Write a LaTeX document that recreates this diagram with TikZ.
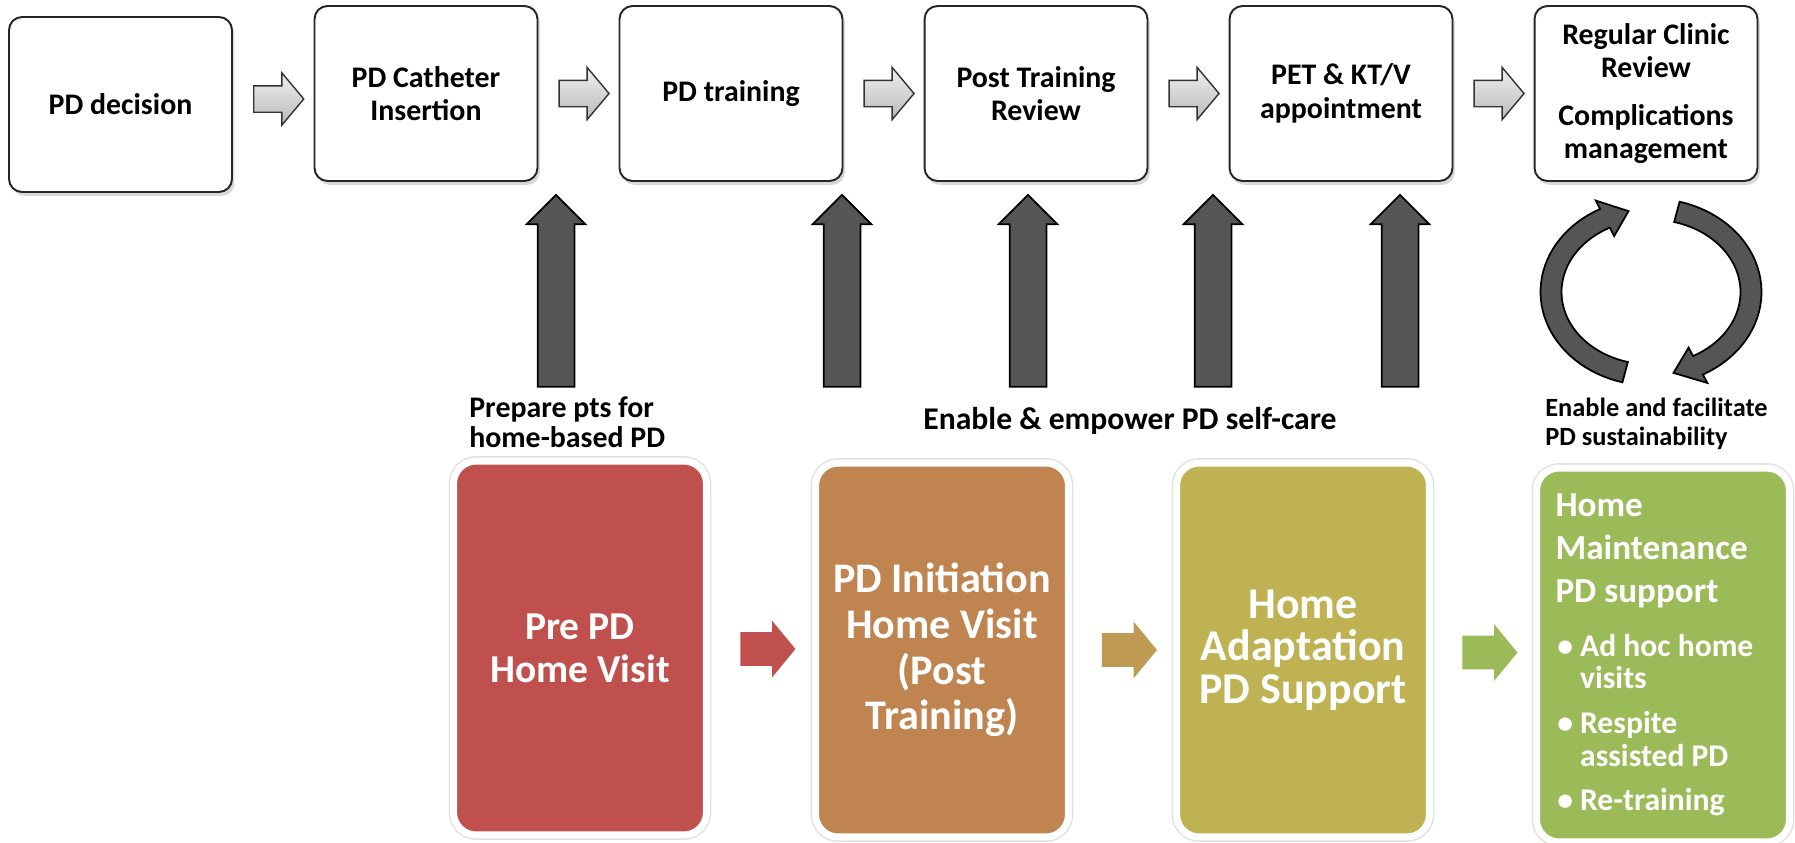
\documentclass[tikz,border=0pt]{standalone}
\usepackage{fontspec}
\setmainfont{Carlito}
\usetikzlibrary{shapes.arrows,shadows,calc}

\definecolor{prered}{HTML}{C0504D}
\definecolor{initbrown}{HTML}{BF8450}
\definecolor{adaptolive}{HTML}{BEB253}
\definecolor{maintgreen}{HTML}{9BBB59}
\definecolor{goldarrow}{HTML}{BE9A52}
\definecolor{liftgray}{HTML}{555555}

\begin{document}
\begin{tikzpicture}[x=0.02cm, y=-0.02cm,
    stepbox/.style={draw=black!85, line width=1.1pt, fill=white, rounded corners=2.6mm,
        minimum width=4.46cm, minimum height=3.5cm, inner sep=0pt, align=center,
        font=\fontsize{17}{19}\selectfont\bfseries,
        drop shadow={shadow xshift=0.5mm, shadow yshift=-0.8mm, opacity=0.3}},
    flowarrow/.style={single arrow, draw=black!80, line width=0.8pt, top color=gray!12, bottom color=gray!55,
        minimum height=1.0cm, single arrow head extend=0.26cm,
        single arrow tip angle=100, inner xsep=0pt, inner ysep=0.25cm},
    liftarrow/.style={single arrow, shape border rotate=90, draw=black, line width=1pt, fill=liftgray,
        minimum height=3.84cm, single arrow head extend=0.22cm, inner xsep=0.35cm, inner ysep=0pt},
    homebox/.style={fill=#1, preaction={draw=black!12, line width=5.6pt}, draw=white, line width=4pt,
        rounded corners=4.5mm, minimum width=5.06cm, minimum height=7.48cm, inner sep=0pt,
        text=white, align=center, font=\fontsize{22.5}{24.5}\selectfont\bfseries},
    homearrow/.style={single arrow, fill=#1, minimum height=1.1cm,
        single arrow head extend=0.23cm, single arrow tip angle=101, inner xsep=0pt, inner ysep=0.33cm},
    note/.style={inner sep=0pt, align=left, font=\fontsize{17}{17}\selectfont\bfseries},
    cyc/.style={draw=black, line width=1pt, fill=liftgray}]

    \useasboundingbox (0,0) rectangle (1795,842);

    % clinic pathway
    \node[stepbox] (pd)     at (120.5,104.5) {PD decision};
    \node[stepbox] (cath)   at (426,93.5)    {PD Catheter\\Insertion};
    \node[stepbox] (train)  at (731,93.5)    {PD training};
    \node[stepbox] (review) at (1036,93.5)   {Post Training\\Review};
    \node[stepbox] (petktv) at (1341,93.5)   {PET \& KT/V\\appointment};
    \node[stepbox] (clinic) at (1646,93.5)   {Regular Clinic\\Review\\[2.8mm]Complications\\management};

    \node[flowarrow] (g1) at ($(pd.east)!0.5!(cath.west)$) {};
    \node[flowarrow] (g2) at ($(cath.east)!0.5!(train.west)$) {};
    \node[flowarrow] (g3) at ($(train.east)!0.5!(review.west)$) {};
    \node[flowarrow] (g4) at ($(review.east)!0.5!(petktv.west)$) {};
    \node[flowarrow] (g5) at ($(petktv.east)!0.5!(clinic.west)$) {};

    % support arrows
    \node[liftarrow] (up1) at (556,300) {};
    \node[liftarrow] (up2) at (842,300) {};
    \node[liftarrow] (up3) at (1028,300) {};
    \node[liftarrow] (up4) at (1213,300) {};
    \node[liftarrow] (up5) at (1400,300) {};

    % cycle
    \filldraw[cyc] plot[domain=105:242.6, samples=40] ({1651+110.5*cos(\x)},{292+93.5*sin(\x)})
        -- ({1651+120*cos(242.6)},{292+103*sin(242.6)}) -- ({1651+100*cos(257)},{292+83*sin(257)})
        -- ({1651+80*cos(242.6)},{292+63*sin(242.6)})
        -- plot[domain=242.6:105, samples=40] ({1651+89.5*cos(\x)},{292+72.5*sin(\x)}) -- cycle;
    \filldraw[cyc] plot[domain=-75:62, samples=40] ({1651+110.5*cos(\x)},{292+93.5*sin(\x)})
        -- ({1651+120*cos(62)},{292+103*sin(62)}) -- ({1651+100*cos(77)},{292+83*sin(77)})
        -- ({1651+80*cos(62)},{292+63*sin(62)})
        -- plot[domain=62:-75, samples=40] ({1651+89.5*cos(\x)},{292+72.5*sin(\x)}) -- cycle;

    \node[note, anchor=west] (preplbl) at (469,422) {Prepare pts for\\home-based PD};
    \node[note, font=\fontsize{18}{18}\selectfont\bfseries] (selflbl) at (1130,421) {Enable \& empower PD self-care};
    \node[note, anchor=west, font=\fontsize{15}{16.5}\selectfont\bfseries] (sustlbl) at (1545,423.5) {Enable and facilitate\\PD sustainability};

    % home visits
    \node[homebox=prered]     (prepd)  at (580,648)  {Pre PD\\Home Visit};
    \node[homebox=initbrown, font=\fontsize{24}{26}\selectfont\bfseries] (initvis) at (942,650) {PD Initiation\\Home Visit\\(Post\\Training)};
    \node[homebox=adaptolive, font=\fontsize{25}{24.3}\selectfont\bfseries] (adapt)  at (1303,650) {Home\\Adaptation\\PD Support};
    \node[homebox=maintgreen, align=flush left, text width=4.3cm] (maint) at (1663,655)
        {{\fontsize{20}{24.5}\selectfont Home\\Maintenance\\PD support\par}\vspace{12pt}
         {\fontsize{18}{18.5}\selectfont\hspace*{1pt}\makebox[13pt][l]{\textbullet}Ad hoc home\\\hspace*{14pt}visits\par}\vspace{7pt}
         {\fontsize{18}{18.5}\selectfont\hspace*{1pt}\makebox[13pt][l]{\textbullet}Respite\\\hspace*{14pt}assisted PD\par}\vspace{7pt}
         {\fontsize{18}{18.5}\selectfont\hspace*{1pt}\makebox[13pt][l]{\textbullet}Re-training\par}};

    \node[homearrow=prered]     (c1) at ($(prepd.east)!0.5!(initvis.west)$) {};
    \node[homearrow=goldarrow]  (c2) at ($(initvis.east)!0.5!(adapt.west)$) {};
    \node[homearrow=maintgreen] (c3) at ($(adapt.east)!0.5!(maint.west)$) {};

\end{tikzpicture}
\end{document}
